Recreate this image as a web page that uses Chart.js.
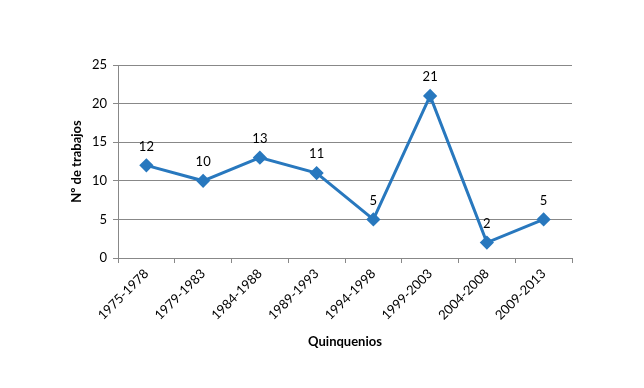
<!DOCTYPE html>
<html>
<head>
<meta charset="utf-8">
<script src="https://cdn.jsdelivr.net/npm/chart.js@4"></script>
<style>
  html, body { margin: 0; padding: 0; background: #fff; }
  #wrap { width: 644px; height: 388px; }
</style>
</head>
<body>
<div id="wrap"><canvas id="grafico" width="644" height="388"></canvas></div>
<script>
// Datos
const quinquenios = ['1975-1978', '1979-1983', '1984-1988', '1989-1993', '1994-1998', '1999-2003', '2004-2008', '2009-2013'];
const trabajos = [12, 10, 13, 11, 5, 21, 2, 5];
const ticksY = [0, 5, 10, 15, 20, 25];

const fuente = 'Lato, "Open Sans", sans-serif';

// Etiquetas de datos encima de cada punto
const etiquetas = {
    id: 'etiquetas',
    afterDatasetsDraw(chart) {
        const ctx = chart.ctx;
        const meta = chart.getDatasetMeta(0);
        ctx.save();
        ctx.font = '13px ' + fuente;
        ctx.fillStyle = '#000';
        ctx.textAlign = 'center';
        ctx.textBaseline = 'middle';
        meta.data.forEach(function (p, i) {
            ctx.fillText(String(trabajos[i]), p.x, p.y - 19);
        });
        ctx.restore();
    }
};

new Chart(document.getElementById('grafico').getContext('2d'), {
    type: 'line',
    data: {
        labels: quinquenios,
        datasets: [{
            data: trabajos,
            borderColor: '#2878be',
            backgroundColor: '#2878be',
            borderWidth: 3,
            pointStyle: 'rectRot',
            pointRadius: 5,
            pointHoverRadius: 5,
            tension: 0
        }]
    },
    options: {
        responsive: false,
        animation: false,
        layout: { padding: { left: 65, right: 72, top: 65, bottom: 34 } },
        plugins: { legend: { display: false }, tooltip: { enabled: false } },
        scales: {
            x: {
                offset: true,
                grid: { offset: true, drawOnChartArea: false, color: '#888', tickLength: 5 },
                border: { color: '#888' },
                ticks: { color: '#000', font: { family: fuente, size: 13 }, minRotation: 45, maxRotation: 45 },
                title: { display: true, text: 'Quinquenios', color: '#000', font: { family: fuente, size: 13, weight: 'bold' } },
                afterFit: function (s) { s.height = 96; }
            },
            y: {
                min: 0,
                max: 25,
                afterBuildTicks: function (s) { s.ticks = ticksY.map(function (v) { return { value: v }; }); },
                grid: { color: '#888', tickLength: 5 },
                border: { color: '#888' },
                ticks: { color: '#000', font: { family: fuente, size: 13 }, padding: 6 },
                title: { display: true, text: 'Nº de trabajos', color: '#000', font: { family: fuente, size: 13, weight: 'bold' } },
                afterFit: function (s) { s.width = 53; }
            }
        }
    },
    plugins: [etiquetas]
});
</script>
</body>
</html>
